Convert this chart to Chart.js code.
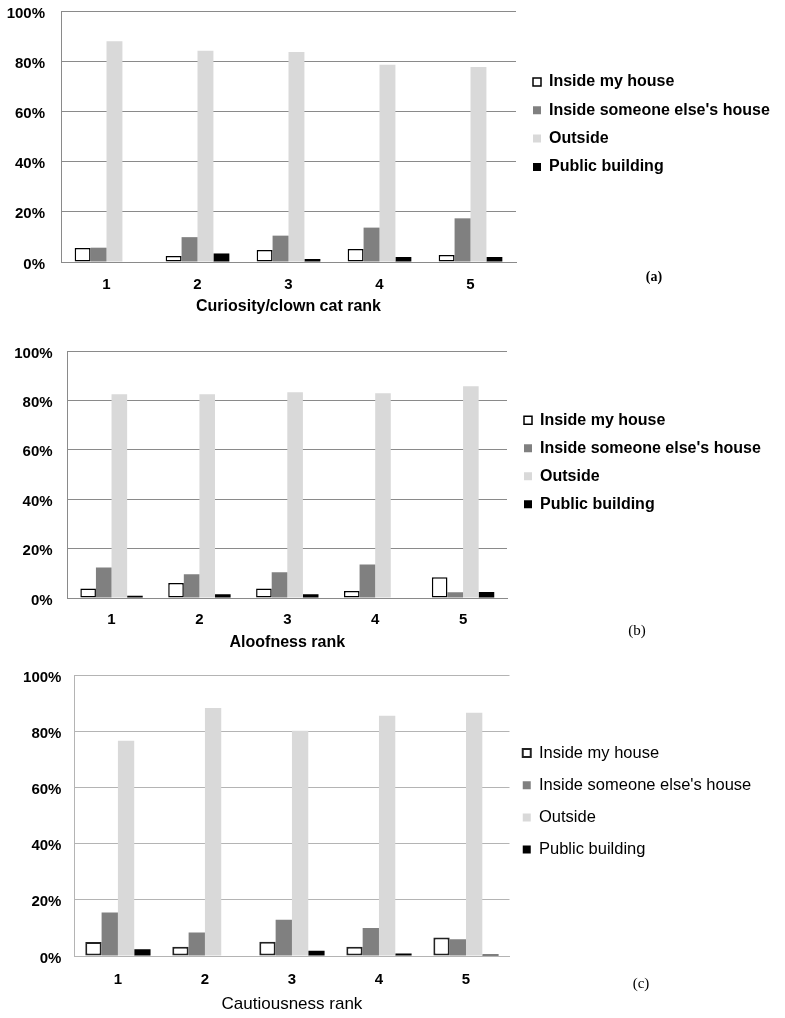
<!DOCTYPE html>
<html><head><meta charset="utf-8">
<script src="https://cdn.jsdelivr.net/npm/chart.js@4.4.0/dist/chart.umd.min.js"></script>
<style>
body{margin:0;background:#fff;}
#wrap{position:relative;width:785px;height:1018px;overflow:hidden;background:#fff;}
#wrap canvas{position:absolute;left:0;}
.tag{position:absolute;font-family:'Liberation Serif','DejaVu Serif',serif;color:#000;transform:translate(-50%,-50%);white-space:nowrap;}
</style></head><body>
<div id="wrap">
<canvas id="ca" width="785" height="320"></canvas>
<canvas id="cb" width="785" height="330"></canvas>
<canvas id="cc" width="785" height="358"></canvas>
<div class="tag" style="left:654px;top:277px;font-weight:bold;font-size:14px">(a)</div>
<div class="tag" style="left:637px;top:630px;font-size:15px">(b)</div>
<div class="tag" style="left:641px;top:983px;font-size:15px">(c)</div>
</div>
<script>
// ---- data ----
const categories = ['1', '2', '3', '4', '5'];
const seriesNames = ['Inside my house', "Inside someone else's house", 'Outside', 'Public building'];
const yTickValues = [0, 20, 40, 60, 80, 100];

const curiosityInsideMy    = [5.6, 2.4, 4.8, 5.2, 2.8];
const curiosityInsideElse  = [5.7, 9.9, 10.5, 13.7, 17.4];
const curiosityOutside     = [87.9, 84.2, 83.7, 78.6, 77.7];
const curiosityPublic      = [0, 3.4, 1.2, 2.0, 2.0];

const aloofInsideMy        = [3.8, 6.1, 3.8, 2.8, 8.4];
const aloofInsideElse      = [12.3, 9.6, 10.4, 13.6, 2.3];
const aloofOutside         = [82.5, 82.5, 83.3, 82.9, 85.7];
const aloofPublic          = [0.9, 1.5, 1.5, 0, 2.4];

const cautionInsideMy      = [5.0, 3.3, 5.1, 3.3, 6.6];
const cautionInsideElse    = [15.5, 8.4, 12.9, 10.0, 6.0];
const cautionOutside       = [76.6, 88.3, 80.2, 85.5, 86.6];
const cautionPublic        = [2.4, 0, 1.9, 0.9, 0.5];

const xTitles = ['Curiosity/clown cat rank', 'Aloofness rank', 'Cautiousness rank'];

// ---- rendering ----
const FAM = "'Liberation Sans', Arial, Helvetica, sans-serif";
Chart.defaults.font.family = FAM;
Chart.defaults.color = '#000';

const legendPlacer = {
  id: 'legendPlacer',
  afterLayout(chart, args, opts) {
    const lg = chart.legend; if (!lg) return;
    const pad = opts.pad, fs = opts.fs;
    const w = lg.width, h = lg.height;
    lg.left = opts.textX - opts.box - fs / 2 - pad;
    lg.right = lg.left + w;
    lg.top = opts.y - fs / 2 - pad;
    lg.bottom = lg.top + h + 200;
  }
};

function makeChart(id, series, cfg) {
  const canvas = document.getElementById(id);
  const lhTick = cfg.tickSize * 1.2, lhTitle = cfg.titleSize * 1.2;
  // the y axis reserves half a label height plus its padding above the plot area
  const cTop = cfg.top - (lhTick / 2 + cfg.yPad);
  const H = Math.round(cfg.titleY + 14 - cTop);
  canvas.height = H;
  canvas.style.top = cTop + 'px';
  const bottom = cfg.bottom - cTop, tickY = cfg.tickY - cTop, titleY = cfg.titleY - cTop;
  const p = tickY - bottom - lhTick / 2;
  const pt = titleY - (bottom + 2 * p + lhTick + lhTitle / 2);
  const axisH = 2 * p + lhTick + lhTitle + pt;
  const padB = H - bottom - axisH;
  const colors = ['#ffffff', '#808080', '#d9d9d9', '#000000'];
  const datasets = series.map((d, i) => ({
    label: seriesNames[i],
    data: d,
    backgroundColor: colors[i],
    borderColor: i === 0 ? cfg.whiteBorder : colors[i],
    borderWidth: i === 0 ? cfg.whiteBorderW : 0,
    borderSkipped: false,
    categoryPercentage: cfg.catPct,
    barPercentage: 1.0
  }));
  return new Chart(canvas, {
    type: 'bar',
    data: { labels: categories, datasets },
    plugins: [legendPlacer],
    options: {
      responsive: false,
      animation: false,
      devicePixelRatio: 1,
      events: [],
      layout: { padding: { left: 0, right: 785 - cfg.right, top: 0, bottom: padB } },
      plugins: {
        tooltip: { enabled: false },
        legend: {
          position: 'chartArea',
          align: 'start',
          labels: {
            boxWidth: 8, boxHeight: 8, padding: cfg.legPad,
            color: '#000',
            font: { size: cfg.legSize, weight: cfg.legWeight, family: FAM, lineHeight: 1.2 }
          }
        },
        legendPlacer: { textX: cfg.legTextX, y: cfg.legY - cTop, pad: cfg.legPad, fs: cfg.legSize, box: 8 }
      },
      scales: {
        x: {
          grid: { display: false, drawTicks: false },
          border: { display: true, color: cfg.gridColor, width: 1 },
          ticks: { padding: p, maxRotation: 0, color: '#000',
                   font: { size: cfg.tickSize, weight: cfg.tickWeight, lineHeight: 1.2 } },
          title: { display: true, text: cfg.xTitle, color: '#000',
                   padding: { top: pt, bottom: 0 },
                   font: { size: cfg.titleSize, weight: cfg.titleWeight, lineHeight: 1.2 } }
        },
        y: {
          min: 0, max: 100,
          afterFit(scale) { scale.width = cfg.left; },
          afterBuildTicks(scale) { scale.ticks = yTickValues.map(v => ({ value: v })); },
          grid: { color: cfg.gridColor, lineWidth: 1, drawTicks: false },
          border: { display: true, color: cfg.gridColor, width: 1 },
          ticks: { padding: cfg.yPad, labelOffset: 2.5, color: '#000',
                   font: { size: cfg.tickSize, weight: cfg.tickWeight, lineHeight: 1.2 },
                   callback: v => v + '%' }
        }
      }
    }
  });
}

makeChart('ca', [curiosityInsideMy, curiosityInsideElse, curiosityOutside, curiosityPublic], {
  left: 61, right: 516, top: 11, bottom: 262, tickY: 285, titleY: 307,
  tickSize: 15, tickWeight: 'bold', titleSize: 16, titleWeight: 'bold', xTitle: xTitles[0],
  yPad: 16, catPct: 0.70, gridColor: '#8a8a8a', whiteBorder: '#000', whiteBorderW: 1.5,
  legTextX: 549, legY: 82, legPad: 12.3, legSize: 16, legWeight: 'bold'
});
makeChart('cb', [aloofInsideMy, aloofInsideElse, aloofOutside, aloofPublic], {
  left: 67.6, right: 507, top: 350.7, bottom: 597.7, tickY: 619.5, titleY: 642.5,
  tickSize: 15, tickWeight: 'bold', titleSize: 16, titleWeight: 'bold', xTitle: xTitles[1],
  yPad: 15, catPct: 0.71, gridColor: '#8a8a8a', whiteBorder: '#000', whiteBorderW: 1.5,
  legTextX: 540, legY: 420, legPad: 12, legSize: 16, legWeight: 'bold'
});
makeChart('cc', [cautionInsideMy, cautionInsideElse, cautionOutside, cautionPublic], {
  left: 74.4, right: 509.5, top: 675, bottom: 956, tickY: 979.8, titleY: 1004.5,
  tickSize: 15, tickWeight: 'bold', titleSize: 17, titleWeight: 'normal', xTitle: xTitles[2],
  yPad: 13, catPct: 0.75, gridColor: '#b4b4b4', whiteBorder: '#222', whiteBorderW: 2,
  legTextX: 539, legY: 753, legPad: 15.7, legSize: 16.5, legWeight: 'normal'
});
</script>
</body></html>
